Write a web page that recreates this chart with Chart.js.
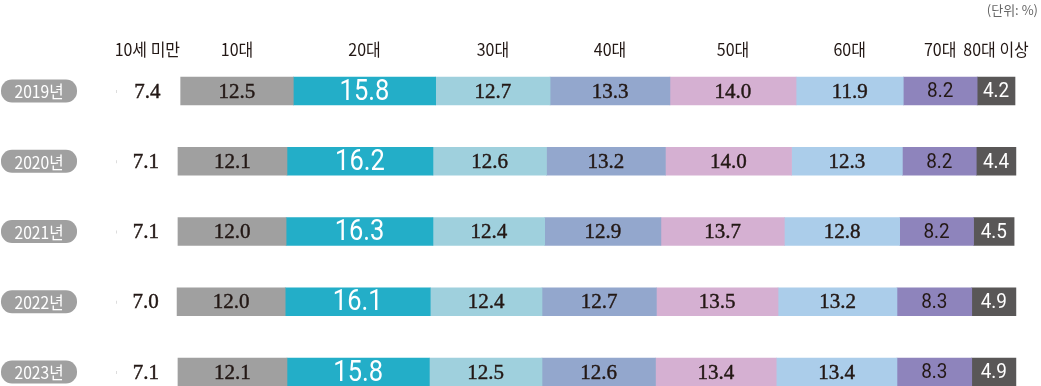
<!DOCTYPE html>
<html>
<head>
<meta charset="utf-8">
<script src="https://cdn.jsdelivr.net/npm/chart.js@4"></script>
<style>
html,body{margin:0;padding:0;background:#fff;}
#wrap{width:1041px;height:386px;position:relative;}
</style>
</head>
<body>
<div id="wrap"><canvas id="c" width="1041" height="386"></canvas></div>
<script>
const years = ['2019년','2020년','2021년','2022년','2023년'];
const ageGroups = ['10세 미만','10대','20대','30대','40대','50대','60대','70대','80대 이상'];
const under10 = [7.4, 7.1, 7.1, 7.0, 7.1];
const teens = [12.5, 12.1, 12.0, 12.0, 12.1];
const twenties = [15.8, 16.2, 16.3, 16.1, 15.8];
const thirties = [12.7, 12.6, 12.4, 12.4, 12.5];
const forties = [13.3, 13.2, 12.9, 12.7, 12.6];
const fifties = [14.0, 14.0, 13.7, 13.5, 13.4];
const sixties = [11.9, 12.3, 12.8, 13.2, 13.4];
const seventies = [8.2, 8.2, 8.2, 8.3, 8.3];
const eighties = [4.2, 4.4, 4.5, 4.9, 4.9];
const unitLabel = '(단위: %)';

const seriesValues = [under10, teens, twenties, thirties, forties, fifties, sixties, seventies, eighties];
const colors = ['rgba(0,0,0,0)','#a0a0a0','#23aec8','#9fd0dd','#93a7cd','#d5b0d2','#abcdea','#8e84bc','#595757'];
const labelColors = ['#231815','#231815','#ffffff','#231815','#231815','#231815','#231815','#231815','#ffffff'];

const datasets = seriesValues.map((vals, i) => ({
  label: ageGroups[i],
  data: vals,
  backgroundColor: colors[i],
  borderWidth: 0,
  barThickness: 28,
  clip: false
}));

function drawScaled(ctx, text, x, y, font, sx, stroke) {
  ctx.save();
  ctx.font = font;
  ctx.translate(x, y);
  ctx.scale(sx, 1);
  ctx.fillText(text, 0, 0);
  if (stroke) {
    ctx.strokeStyle = ctx.fillStyle;
    ctx.lineWidth = stroke;
    ctx.strokeText(text, 0, 0);
  }
  ctx.restore();
}

const overlay = {
  id: 'overlay',
  afterDatasetsDraw(chart) {
    const ctx = chart.ctx;
    const y = chart.scales.y;
    const x = chart.scales.x;
    ctx.save();
    ctx.textAlign = 'center';
    ctx.textBaseline = 'middle';
    years.forEach((yr, i) => {
      const cy = y.getPixelForValue(i);
      const x0 = 1, w = 76, h = 23, r = 11;
      ctx.fillStyle = '#a0a0a0';
      ctx.beginPath();
      ctx.roundRect(x0, cy - h/2, w, h, r);
      ctx.fill();
      ctx.fillStyle = '#ffffff';
      drawScaled(ctx, yr, x0 + w/2, cy + 1, '17px "Noto Sans CJK KR"', 0.92);
      ctx.fillStyle = '#dddddd';
      ctx.fillRect(x.getPixelForValue(0) + 2, cy - 1, 1, 3);
    });
    chart.data.datasets.forEach((ds, di) => {
      const meta = chart.getDatasetMeta(di);
      meta.data.forEach((el, j) => {
        const cx = (el.x + el.base) / 2;
        const val = ds.data[j].toFixed(1);
        ctx.fillStyle = labelColors[di];
        if (di === 2) {
          drawScaled(ctx, val, cx, el.y + 1, '30px Roboto', 0.85);
        } else if (di >= 7) {
          drawScaled(ctx, val, cx, el.y + 1, '21px Roboto', 0.9);
        } else {
          drawScaled(ctx, val, cx, el.y + 1, '21px "Liberation Serif"', 1, 0.45);
        }
      });
    });
    const first = chart.data.datasets.map((ds, di) => chart.getDatasetMeta(di).data[0]);
    ctx.font = '17px "Noto Sans CJK KR"';
    ctx.fillStyle = '#231815';
    first.forEach((el, di) => {
      let cx = (el.x + el.base) / 2;
      const tw = ctx.measureText(ageGroups[di]).width * 0.94;
      if (cx + tw/2 > 1039) cx = 1039 - tw/2;
      drawScaled(ctx, ageGroups[di], cx, 50, '17px "Noto Sans CJK KR"', 0.94);
    });
    ctx.font = '13px "Noto Sans CJK KR"';
    ctx.fillStyle = '#666666';
    ctx.textAlign = 'right';
    ctx.fillText(unitLabel, 1038, 10);
    ctx.restore();
  }
};

new Chart(document.getElementById('c'), {
  type: 'bar',
  data: { labels: years, datasets },
  options: {
    indexAxis: 'y',
    responsive: false,
    animation: false,
    layout: { padding: { left: 114, right: 26, top: 91, bottom: 14 } },
    plugins: { legend: { display: false }, tooltip: { enabled: false } },
    scales: {
      x: { stacked: true, min: 0, max: 100, display: false, grid: { display: false } },
      y: { stacked: true, display: false, offset: false, grid: { display: false } }
    }
  },
  plugins: [overlay]
});
</script>
</body>
</html>
